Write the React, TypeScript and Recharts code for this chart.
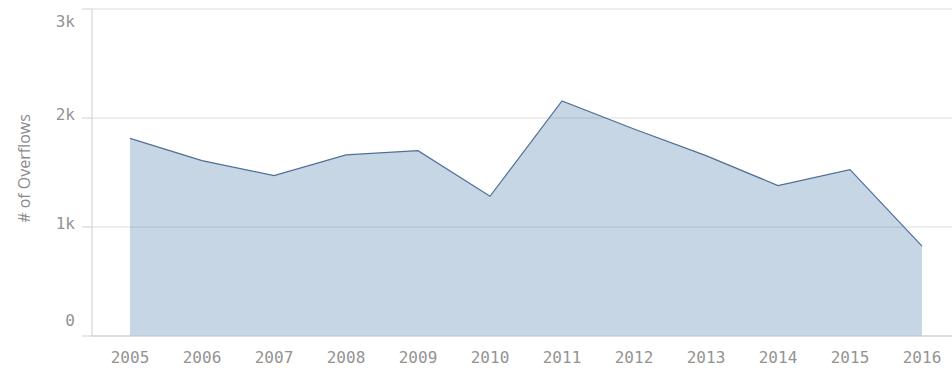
import React from 'react';
import { AreaChart, Area, XAxis, YAxis, CartesianGrid } from 'recharts';

const years = ['2005', '2006', '2007', '2008', '2009', '2010', '2011', '2012', '2013', '2014', '2015', '2016'];
const overflows = [1813, 1609, 1472, 1661, 1700, 1282, 2157, 1899, 1655, 1380, 1527, 825];
const yTicks = [0, 1000, 2000, 3000];

const data = years.map((y, i) => ({ year: y, value: overflows[i] }));

const fmt = (v: number) => (v === 0 ? '0' : `${v / 1000}k`);

const tickFont = "'DejaVu Sans Mono', monospace";

const YTick = (props: any) => {
  const { x, y, payload } = props;
  const v = payload.value;
  let dy = 5;
  if (v === 3000) dy = 18;
  else if (v === 0) dy = -10;
  else dy = 2;
  return (
    <text x={x} y={y} dy={dy} textAnchor="end" fill="#939393" fontSize={16} fontFamily={tickFont}>
      {fmt(v)}
    </text>
  );
};

export default function App() {
  return (
    <div style={{ position: 'absolute', left: 0, top: 0, width: 952, height: 368, background: '#fff' }}>
      <AreaChart width={952} height={368} data={data} margin={{ top: 9, right: 0, bottom: 0, left: 0 }}>
        <CartesianGrid vertical={false} stroke="#dcdcdc" strokeWidth={1} />
        <XAxis
          dataKey="year"
          height={32}
          padding={{ left: 38, right: 30 }}
          tickLine={false}
          axisLine={{ stroke: '#cfcfcf' }}
          tickMargin={10}
          tick={{ fill: '#939393', fontSize: 16, fontFamily: tickFont }}
          interval={0}
        />
        <YAxis
          width={92}
          domain={[0, 3000]}
          ticks={yTicks}
          tickSize={10}
          tickMargin={7}
          tickLine={{ stroke: '#cfcfcf' }}
          axisLine={{ stroke: '#cfcfcf' }}
          tick={<YTick />}
          interval={0}
          label={{
            value: '# of Overflows',
            angle: -90,
            position: 'insideLeft',
            dx: 19,
            dy: -4,
            style: { fill: '#8a8a8a', fontSize: 16, fontFamily: "'Open Sans', sans-serif", textAnchor: 'middle' },
          }}
        />
        <Area
          type="linear"
          dataKey="value"
          stroke="#4f6f98"
          strokeWidth={1.2}
          fill="#4477aa"
          fillOpacity={0.3}
          isAnimationActive={false}
          dot={false}
          activeDot={false}
        />
      </AreaChart>
    </div>
  );
}
